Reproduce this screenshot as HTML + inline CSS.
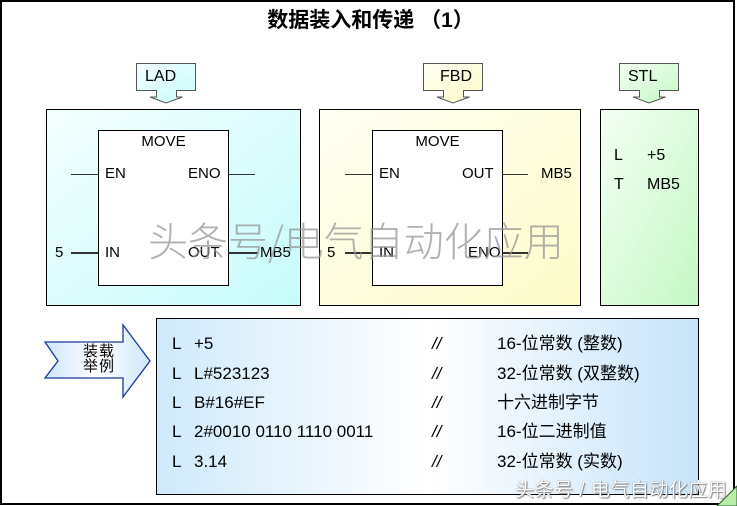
<!DOCTYPE html>
<html><head><meta charset="utf-8"><style>
html,body{margin:0;padding:0;background:#fff}
body{width:737px;height:506px;position:relative;overflow:hidden;font-family:"Liberation Sans","Noto Sans CJK SC",sans-serif}
.a{position:absolute}
.t{position:absolute;font-size:15px;line-height:15px;color:#000;white-space:nowrap}
.e{position:absolute;font-size:17px;line-height:17px;color:#000;white-space:nowrap}
.ln{position:absolute;height:1px;background:#333}
.blk{position:absolute;border:1px solid #000;background:#fff}
</style></head><body>
<div class="a" style="left:0;top:0;width:731px;height:501px;border:2px solid #000;"></div>
<div class="t" style="left:2px;width:737px;top:9px;text-align:center;font-size:21px;line-height:24px;font-weight:bold;">数据装入和传递 （1）</div>

<svg class="a" style="left:0;top:0" width="737" height="506">
<defs>
<linearGradient id="g1" x1="0" y1="0" x2="1" y2="1"><stop offset="0" stop-color="#f4ffff"/><stop offset="1" stop-color="#c6fbfb"/></linearGradient>
<linearGradient id="g2" x1="0" y1="0" x2="1" y2="1"><stop offset="0" stop-color="#fffff4"/><stop offset="1" stop-color="#fdfbc8"/></linearGradient>
<linearGradient id="g3" x1="0" y1="0" x2="1" y2="1"><stop offset="0" stop-color="#f4fff4"/><stop offset="1" stop-color="#c4f8c4"/></linearGradient>
<linearGradient id="g4" x1="0" y1="0" x2="1" y2="0"><stop offset="0" stop-color="#cfeafb"/><stop offset="0.5" stop-color="#ffffff"/><stop offset="1" stop-color="#c6e4fa"/></linearGradient>
<linearGradient id="g5" x1="0" y1="0" x2="1" y2="0"><stop offset="0" stop-color="#cfe6fb"/><stop offset="0.5" stop-color="#ffffff"/><stop offset="1" stop-color="#cfe6fb"/></linearGradient>
</defs>
<rect x="46.5" y="109.5" width="254" height="196" fill="url(#g1)" stroke="#000"/>
<rect x="319.5" y="109.5" width="261" height="196" fill="url(#g2)" stroke="#000"/>
<rect x="600.5" y="109.5" width="98" height="196" fill="url(#g3)" stroke="#000"/>
<rect x="156.5" y="318.5" width="542" height="176" fill="url(#g4)" stroke="#000"/>
<path d="M136.5 63.5H195.5V90.5H176.5V97H182.5L166 103L150 97H156.5V90.5H136.5Z" fill="url(#g1)" stroke="#555"/>
<path d="M423.5 63.5H482.5V90.5H463.5V97H469.5L453 103L437 97H443.5V90.5H423.5Z" fill="url(#g2)" stroke="#555"/>
<path d="M619.5 63.5H678.5V90.5H659.5V97H665.5L649 103L633 97H639.5V90.5H619.5Z" fill="url(#g3)" stroke="#555"/>
<path d="M45 342L58 361L45 378H123V397L150 361L123 325V342Z" fill="url(#g5)" stroke="#1a3a9a" stroke-width="1.3"/>
<path d="M717 506L737 486V506Z" fill="#b9f0a8" stroke="#2a5a2a" stroke-width="1"/>
</svg>

<div class="t" style="left:145px;top:69px;font-size:16px">LAD</div>
<div class="t" style="left:440px;top:69px;font-size:16px">FBD</div>
<div class="t" style="left:628px;top:69px;font-size:16px">STL</div>

<!-- LAD -->
<div class="blk" style="left:98px;top:130px;width:129px;height:154px"></div>
<div class="t" style="left:98px;width:131px;text-align:center;top:134px">MOVE</div>
<div class="t" style="left:105px;top:166px">EN</div>
<div class="t" style="left:188px;top:166px">ENO</div>
<div class="t" style="left:105px;top:245px">IN</div>
<div class="t" style="left:188px;top:245px">OUT</div>
<div class="t" style="left:55px;top:245px">5</div>
<div class="t" style="left:260px;top:245px">MB5</div>
<div class="ln" style="left:71px;top:174px;width:27px"></div>
<div class="ln" style="left:228px;top:174px;width:27px"></div>
<div class="ln" style="left:71px;top:252px;width:27px;height:2px"></div>
<div class="ln" style="left:228px;top:252px;width:30px;height:2px"></div>

<!-- FBD -->
<div class="blk" style="left:372px;top:130px;width:129px;height:154px"></div>
<div class="t" style="left:372px;width:131px;text-align:center;top:134px">MOVE</div>
<div class="t" style="left:379px;top:166px">EN</div>
<div class="t" style="left:462px;top:166px">OUT</div>
<div class="t" style="left:379px;top:245px">IN</div>
<div class="t" style="left:468px;top:245px">ENO</div>
<div class="t" style="left:327px;top:245px">5</div>
<div class="t" style="left:541px;top:166px">MB5</div>
<div class="ln" style="left:345px;top:174px;width:27px"></div>
<div class="ln" style="left:502px;top:174px;width:26px"></div>
<div class="ln" style="left:345px;top:252px;width:27px;height:2px"></div>
<div class="ln" style="left:502px;top:252px;width:26px;height:2px"></div>

<!-- STL -->
<div class="t" style="left:614px;top:148px;font-size:16px">L</div>
<div class="t" style="left:647px;top:148px;font-size:16px">+5</div>
<div class="t" style="left:614px;top:177px;font-size:16px">T</div>
<div class="t" style="left:647px;top:177px;font-size:16px">MB5</div>

<!-- arrow text -->
<div class="t" style="left:83px;top:344px;line-height:15px;letter-spacing:1px">装载<br>举例</div>

<!-- examples -->
<div class="e" style="left:172px;top:335px">L</div><div class="e" style="left:194px;top:335px">+5</div><div class="e" style="left:432px;top:335px;font-style:italic">//</div><div class="e" style="left:497px;top:335px">16-位常数 (整数)</div>
<div class="e" style="left:172px;top:365px">L</div><div class="e" style="left:194px;top:365px">L#523123</div><div class="e" style="left:432px;top:365px;font-style:italic">//</div><div class="e" style="left:497px;top:365px">32-位常数 (双整数)</div>
<div class="e" style="left:172px;top:394px">L</div><div class="e" style="left:194px;top:394px">B#16#EF</div><div class="e" style="left:432px;top:394px;font-style:italic">//</div><div class="e" style="left:497px;top:394px">十六进制字节</div>
<div class="e" style="left:172px;top:423px">L</div><div class="e" style="left:194px;top:423px">2#0010 0110 1110 0011</div><div class="e" style="left:432px;top:423px;font-style:italic">//</div><div class="e" style="left:497px;top:423px">16-位二进制值</div>
<div class="e" style="left:172px;top:453px">L</div><div class="e" style="left:194px;top:453px">3.14</div><div class="e" style="left:432px;top:453px;font-style:italic">//</div><div class="e" style="left:497px;top:453px">32-位常数 (实数)</div>

<!-- watermarks -->
<div class="t" style="left:148px;top:217px;font-size:40px;line-height:44px;color:rgba(150,150,150,0.75);font-family:'Noto Sans CJK SC',sans-serif;font-weight:300;letter-spacing:0px">头条号/电气自动化应用</div>
<div class="t" style="left:515px;top:480px;font-size:19px;line-height:22px;letter-spacing:0.5px;color:#fff;text-shadow:0 0 1px #666,1px 1px 1px #888">头条号 / 电气自动化应用</div>
</body></html>
